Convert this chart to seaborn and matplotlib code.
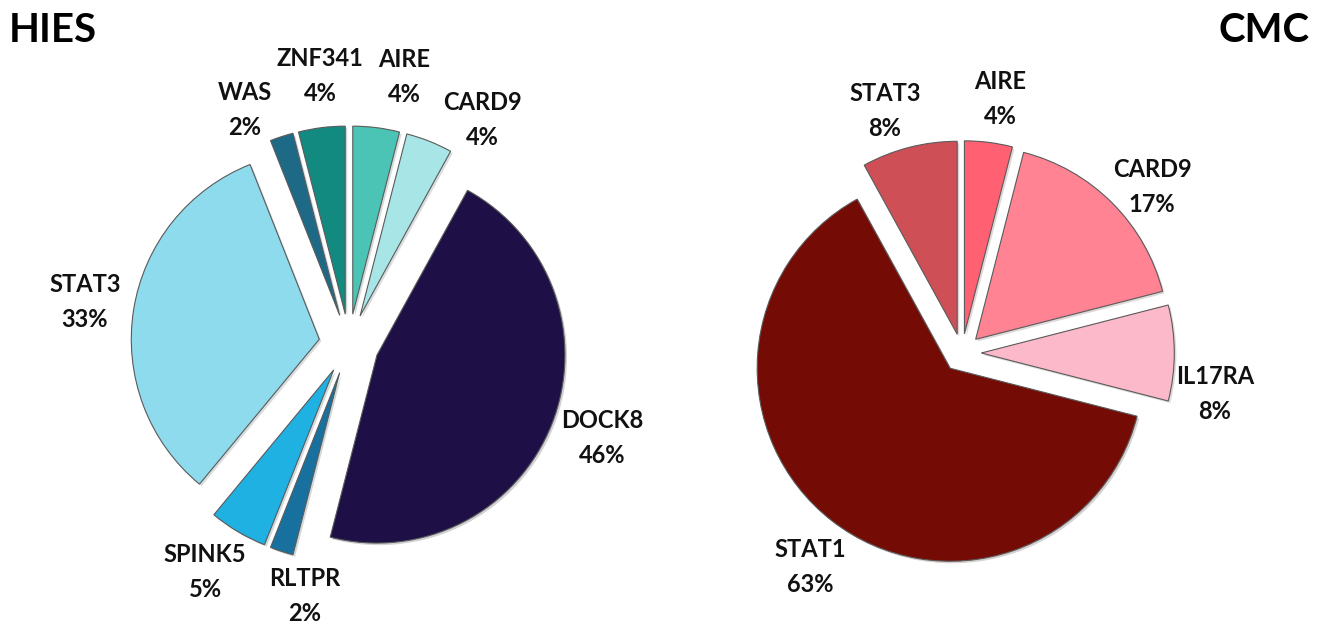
import matplotlib.pyplot as plt
import matplotlib.patheffects as pe
import seaborn as sns

# gene share per cohort, listed clockwise from 12 o'clock
HIES_GENES = ["AIRE", "CARD9", "DOCK8", "RLTPR", "SPINK5", "STAT3", "WAS", "ZNF341"]
HIES_PCT = [4, 4, 46, 2, 5, 33, 2, 4]
HIES_COLORS = ["#4cc4b5", "#a8e5e6", "#1e1046", "#17709e", "#1fb1e2",
               "#8ddbed", "#1e6a86", "#138a80"]

CMC_GENES = ["AIRE", "CARD9", "IL17RA", "STAT1", "STAT3"]
CMC_PCT = [4, 17, 8, 63, 8]
CMC_COLORS = ["#ff6172", "#ff8393", "#fbb9ca", "#740b04", "#cf4f57"]

W, H = 1320, 627

# label block centres in pixels (from top-left)
HIES_LABEL_XY = {"AIRE": (404, 77), "CARD9": (482, 120), "DOCK8": (602, 438),
                 "RLTPR": (305, 596), "SPINK5": (205, 572), "STAT3": (85, 302),
                 "WAS": (245, 110), "ZNF341": (320, 76)}
CMC_LABEL_XY = {"AIRE": (1000, 99), "CARD9": (1152, 187), "IL17RA": (1215, 394),
                "STAT1": (810, 567), "STAT3": (885, 111)}

sns.set_theme(style="white")
plt.rcParams["font.family"] = ["Lato", "DejaVu Sans"]

fig = plt.figure(figsize=(W / 100, H / 100), dpi=100)
fig.patch.set_facecolor("white")


def pie_panel(values, colors, centre, radius, explode):
    """Draw a pie in a full-figure axes so that 1 data unit = radius pixels."""
    cx, cy = centre
    ax = fig.add_axes([0, 0, 1, 1])
    ax.patch.set_alpha(0)
    wedges, _ = ax.pie(values, colors=colors, startangle=90, counterclock=False,
                       explode=[explode] * len(values),
                       wedgeprops=dict(edgecolor="#5a5a5a", linewidth=0.8))
    for w in wedges:
        w.set_path_effects([pe.SimplePatchShadow(offset=(1.5, -1.5), alpha=0.18),
                            pe.Normal()])
    ax.set_xlim(-cx / radius, (W - cx) / radius)
    ax.set_ylim(-(H - cy) / radius, cy / radius)
    ax.set_aspect("equal")
    ax.axis("off")
    return ax


def labels(genes, pct, xy):
    for g, p in zip(genes, pct):
        x, y = xy[g]
        fig.text(x / W, 1 - y / H, f"{g}\n{p}%", ha="center", va="center",
                 multialignment="center", fontsize=17, fontweight="bold",
                 linespacing=1.6, color="#111111")


pie_panel(HIES_PCT, HIES_COLORS, (349, 344), 188, 0.16)
pie_panel(CMC_PCT, CMC_COLORS, (962, 353), 193, 0.1)
labels(HIES_GENES, HIES_PCT, HIES_LABEL_XY)
labels(CMC_GENES, CMC_PCT, CMC_LABEL_XY)

fig.text(9 / W, 1 - 31 / H, "HIES", ha="left", va="center", fontsize=29,
         fontweight="bold", color="black")
fig.text(1309 / W, 1 - 31 / H, "CMC", ha="right", va="center", fontsize=29,
         fontweight="bold", color="black")

fig.savefig("out.png", dpi=100, facecolor="white")
